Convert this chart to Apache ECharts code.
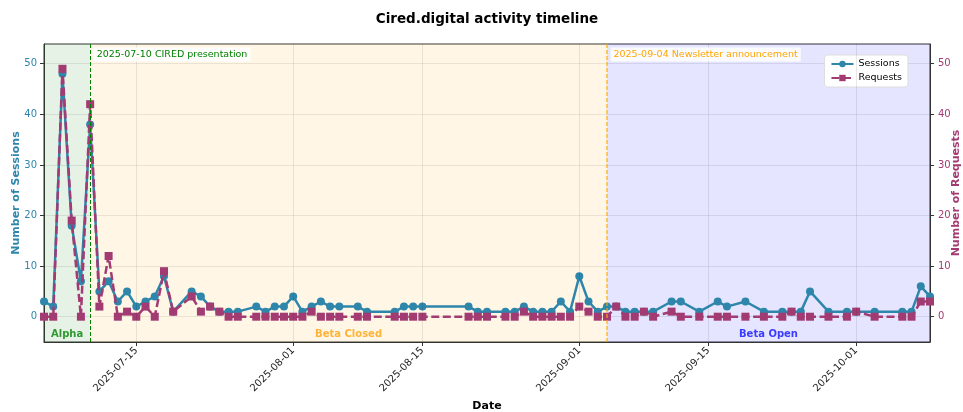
<!DOCTYPE html>
<html>
<head>
<meta charset="utf-8">
<script src="https://cdn.jsdelivr.net/npm/echarts@6/dist/echarts.min.js"></script>
<style>html,body{margin:0;padding:0;background:#fff;}#c{width:963px;height:412px;}</style>
</head>
<body>
<div id="c"></div>
<script>
const dates = ['2025-07-05','2025-07-06','2025-07-07','2025-07-08','2025-07-09','2025-07-10','2025-07-11','2025-07-12','2025-07-13','2025-07-14',
 '2025-07-15','2025-07-16','2025-07-17','2025-07-18','2025-07-19','2025-07-21','2025-07-22','2025-07-23','2025-07-24','2025-07-25',
 '2025-07-26','2025-07-28','2025-07-29','2025-07-30','2025-07-31','2025-08-01','2025-08-02','2025-08-03','2025-08-04','2025-08-05',
 '2025-08-06','2025-08-08','2025-08-09','2025-08-12','2025-08-13','2025-08-14','2025-08-15','2025-08-20','2025-08-21','2025-08-22',
 '2025-08-24','2025-08-25','2025-08-26','2025-08-27','2025-08-28','2025-08-29','2025-08-30','2025-08-31','2025-09-01','2025-09-02',
 '2025-09-03','2025-09-04','2025-09-05','2025-09-06','2025-09-07','2025-09-08','2025-09-09','2025-09-11','2025-09-12','2025-09-14',
 '2025-09-16','2025-09-17','2025-09-19','2025-09-21','2025-09-23','2025-09-24','2025-09-25','2025-09-26','2025-09-28','2025-09-30',
 '2025-10-01','2025-10-03','2025-10-06','2025-10-07','2025-10-08','2025-10-09'];
const sessions = [3,2,48,18,7,38,5,7,3,5,
 2,3,4,8,1,5,4,2,1,1,
 1,2,1,2,2,4,1,2,3,2,
 2,2,1,1,2,2,2,2,1,1,
 1,1,2,1,1,1,3,1,8,3,
 1,2,2,1,1,1,1,3,3,1,
 3,2,3,1,1,1,1,5,1,1,
 1,1,1,1,6,4];
const requests = [0,0,49,19,0,42,2,12,0,1,
 0,2,0,9,1,4,1,2,1,0,
 0,0,0,0,0,0,0,1,0,0,
 0,0,0,0,0,0,0,0,0,0,
 0,0,1,0,0,0,0,0,2,1,
 0,0,2,0,0,1,0,1,0,0,
 0,0,0,0,0,1,0,0,0,0,
 1,0,0,0,3,3];
const xTickDates = ['2025-07-15','2025-08-01','2025-08-15','2025-09-01','2025-09-15','2025-10-01'];
const yTicks = [0,10,20,30,40,50];
const phaseNames = ['Alpha','Beta Closed','Beta Open'];
const phaseStarts = ['2025-07-05','2025-07-10','2025-09-04'];
const phaseEnds = ['2025-07-10','2025-09-04','2025-10-09'];
const eventDates = ['2025-07-10','2025-09-04'];
const eventLabels = ['2025-07-10 CIRED presentation','2025-09-04 Newsletter announcement'];

const FONT = 'DejaVu Sans';
function ts(s){const p=s.split('-').map(Number);return new Date(p[0],p[1]-1,p[2]).getTime();}
function fmt(v){const d=new Date(v);return d.getFullYear()+'-'+String(d.getMonth()+1).padStart(2,'0')+'-'+String(d.getDate()).padStart(2,'0');}

const phaseFill = ['rgba(0,128,0,0.1)','rgba(255,165,0,0.1)','rgba(0,0,255,0.1)'];
const phaseText = ['#2f9a2f','#ffb338','#3b3bff'];
const eventColor = ['#008000','#FFA500'];

const xMin = ts('2025-07-05'), xMax = ts('2025-10-09');
const tickTs = xTickDates.map(ts);

const chart = echarts.init(document.getElementById('c'));
chart.setOption({
  animation:false,
  textStyle:{fontFamily:FONT},
  graphic:[{type:'text',x:487,y:19,style:{text:'Cired.digital activity timeline',font:'bold 13.5px "DejaVu Sans"',fill:'#000',textAlign:'center',textVerticalAlign:'middle'}}],
  grid:{left:44,right:33,top:44,bottom:70,containLabel:false,outerBoundsMode:'none',show:true,borderColor:'#333',borderWidth:1,backgroundColor:'transparent'},
  legend:{data:['Sessions','Requests'],orient:'vertical',right:55,top:55,itemWidth:22,itemHeight:8,itemGap:4,
    backgroundColor:'#fff',borderColor:'#ddd',borderWidth:1,borderRadius:3,padding:[4,6],
    textStyle:{fontSize:9.5,fontFamily:FONT,color:'#000'}},
  xAxis:{type:'value',min:xMin,max:xMax,
    name:'Date',nameLocation:'middle',nameGap:59,nameMoveOverlap:false,nameTextStyle:{fontWeight:'bold',fontSize:11,color:'#000',fontFamily:FONT},
    axisLine:{show:true,onZero:false,lineStyle:{color:'#333'}},
    axisTick:{show:true,customValues:tickTs,length:4,lineStyle:{color:'#333'}},
    axisLabel:{customValues:tickTs,formatter:function(v){return fmt(v);},rotate:45,margin:7,fontSize:10,color:'#222',fontFamily:FONT},
    splitLine:{show:false}},
  yAxis:[
    {type:'value',min:-5,max:53.9,splitNumber:5,position:'left',
     name:'Number of Sessions',nameLocation:'middle',nameGap:22,nameMoveOverlap:false,nameTextStyle:{fontWeight:'bold',fontSize:11,color:'#2E86AB',fontFamily:FONT},
     axisLine:{show:true,onZero:false,lineStyle:{color:'#333'}},
     axisTick:{show:true,customValues:yTicks,length:4,lineStyle:{color:'#333'}},
     axisLabel:{customValues:yTicks,margin:7,fontSize:10,color:'#2E86AB',fontFamily:FONT},
     splitLine:{show:true,lineStyle:{color:'rgba(0,0,0,0.09)',width:1}}},
    {type:'value',min:-5,max:53.9,splitNumber:5,position:'right',
     name:'Number of Requests',nameLocation:'middle',nameGap:21,nameMoveOverlap:false,nameTextStyle:{fontWeight:'bold',fontSize:11,color:'#A23B72',fontFamily:FONT},
     axisLine:{show:true,onZero:false,lineStyle:{color:'#333'}},
     axisTick:{show:true,customValues:yTicks,length:4,lineStyle:{color:'#333'}},
     axisLabel:{customValues:yTicks,margin:8,fontSize:10,color:'#A23B72',fontFamily:FONT},
     splitLine:{show:false}}
  ],
  series:[
    {name:'_bg',type:'line',data:[],z:1,silent:true,
     markArea:{silent:true,data:phaseNames.map((n,i)=>[
        {name:n,xAxis:ts(phaseStarts[i]),itemStyle:{color:phaseFill[i]},
         label:{show:true,position:'insideBottom',distance:3,color:phaseText[i],fontWeight:'bold',fontSize:10,fontFamily:FONT}},
        {xAxis:ts(phaseEnds[i])}])},
     markLine:{silent:true,symbol:['none','none'],label:{show:false},
       data:tickTs.map(t=>({xAxis:t,lineStyle:{color:'rgba(0,0,0,0.09)',width:1,type:'solid'}}))
         .concat(eventDates.map((d,i)=>({xAxis:ts(d),lineStyle:{color:eventColor[i],width:i===0?1:1.5,type:[4,2],opacity:i===0?1:0.75}})))},
     markPoint:{silent:true,symbol:'circle',symbolSize:1,itemStyle:{color:'rgba(0,0,0,0)'},
       data:eventDates.map((d,i)=>({coord:[ts(d),51.8],
         label:{show:true,position:'right',distance:3,formatter:eventLabels[i],color:eventColor[i],fontSize:9.5,fontFamily:FONT,
           backgroundColor:'rgba(255,255,255,0.85)',padding:[2,3]}}))}
    },
    {name:'Sessions',type:'line',yAxisIndex:0,z:3,data:dates.map((d,i)=>[ts(d),sessions[i]]),
     symbol:'circle',symbolSize:8,showAllSymbol:true,
     lineStyle:{color:'#2E86AB',width:2.5},itemStyle:{color:'#2E86AB'}},
    {name:'Requests',type:'line',yAxisIndex:1,z:4,data:dates.map((d,i)=>[ts(d),requests[i]]),
     symbol:'rect',symbolSize:8,showAllSymbol:true,
     lineStyle:{color:'#A23B72',width:2.5,type:[8,3.5]},itemStyle:{color:'#A23B72'}}
  ]
});
</script>
</body>
</html>
